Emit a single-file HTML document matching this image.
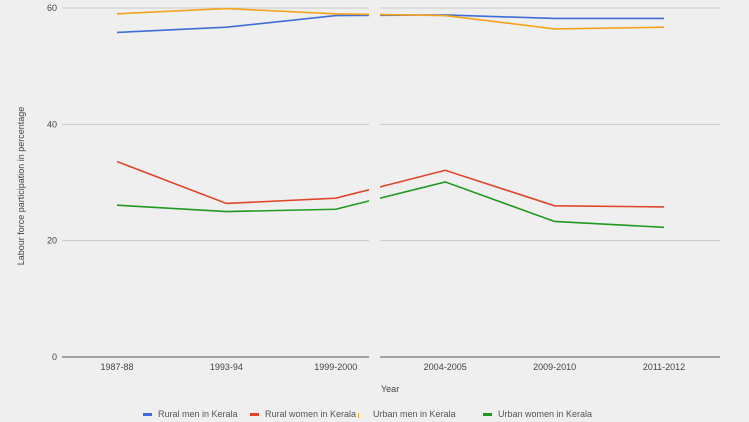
<!DOCTYPE html>
<html><head><meta charset="utf-8"><style>
body{margin:0;background:#efefef;font-family:"Liberation Sans",sans-serif}
svg{display:block}
</style></head><body>
<svg width="749" height="422">
<rect width="749" height="422" fill="#efefef"/>
<g id="grid"></g>
<g id="lines"></g>
<rect x="369" y="0" width="11" height="365" fill="#efefef"/>
<g id="axes"></g>
<text x="24" y="186" transform="rotate(-90 24 186)" font-size="9" fill="#444" text-anchor="middle">Labour force participation in percentage</text>
<text x="381" y="392" font-size="9" fill="#444">Year</text>
<g id="legend"></g>
</svg>
<script>
const categories=["1987-88","1993-94","1999-2000","2004-2005","2009-2010","2011-2012"];
const ruralMen=[55.8,56.7,58.7,58.8,58.2,58.2];
const urbanMen=[59,59.9,59,58.7,56.4,56.7];
const ruralWomen=[33.6,26.4,27.3,32.1,26,25.8];
const urbanWomen=[26.1,25,25.4,30.1,23.3,22.3];
const yTicks=[0,20,40,60];
const seriesNames=["Rural men in Kerala","Rural women in Kerala","Urban men in Kerala","Urban women in Kerala"];
const NS="http://www.w3.org/2000/svg";
const xPos=i=>117+i*109.4;
const yPos=v=>357-v*(349/60);
function mk(tag,attrs,parent){const e=document.createElementNS(NS,tag);for(const k in attrs)e.setAttribute(k,attrs[k]);parent.appendChild(e);return e;}
const grid=document.getElementById('grid'),axes=document.getElementById('axes');
yTicks.forEach(t=>{
  const y=yPos(t);
  const c=t===0?'#555':'#c8c8c8';
  let l=mk('line',{x1:62,x2:369,y1:y,y2:y,stroke:c,'stroke-width':1},t===0?axes:grid);
  
  
  l=mk('line',{x1:380,x2:720,y1:y,y2:y,stroke:c,'stroke-width':1},t===0?axes:grid);
  
  
  const tx=mk('text',{x:57,y:y+3,'font-size':9,fill:'#444','text-anchor':'end'},axes);
  tx.textContent=t;
  
  
});
categories.forEach((c,i)=>{
  const tx=mk('text',{x:xPos(i),y:370,'font-size':9,fill:'#444','text-anchor':'middle'},axes);
  tx.textContent=c;
  
  
});
const series=[[ruralMen,'#3f6ed8'],[ruralWomen,'#e0452a'],[urbanMen,'#f7a21b'],[urbanWomen,'#1f9a1f']];
const lines=document.getElementById('lines');
[series[1],series[3],series[0],series[2]].forEach(([d,col])=>{
  const p=mk('polyline',{points:d.map((v,i)=>xPos(i)+','+yPos(v)).join(' '),fill:'none',stroke:col,'stroke-width':1.6},lines);
  
  
});
const legend=document.getElementById('legend');
const lx=[143,250,358,483];
seriesNames.forEach((n,i)=>{
  const col=series[i][1];
  const r=mk('rect',{x:lx[i],y:413,width:i===2?1:9,height:i===2?5:3,fill:col},legend);
  
  
  const t=mk('text',{x:lx[i]+15,y:417,'font-size':9,fill:'#555'},legend);
  t.textContent=n;
  
  
});
</script>
</body></html>
